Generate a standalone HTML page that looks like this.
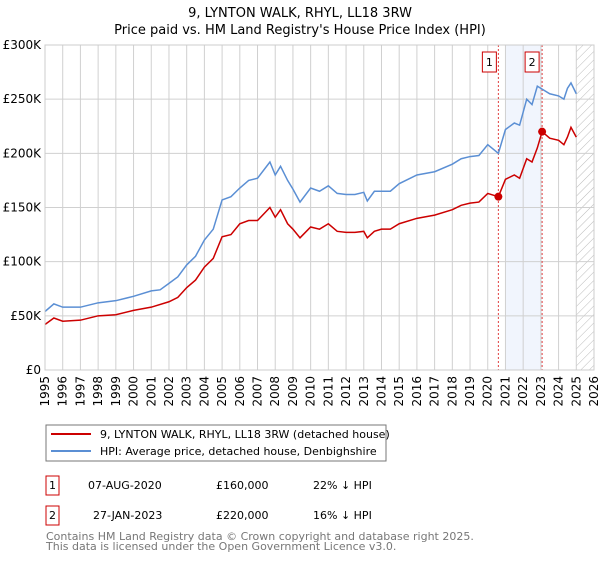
<!DOCTYPE html>
<html><head><meta charset="utf-8"><style>
body{margin:0;background:#fff;font-family:"Liberation Sans","DejaVu Sans",sans-serif;}
svg text{font-family:"DejaVu Sans","Liberation Sans",sans-serif;}
</style></head><body>
<svg id="c" width="600" height="560" xmlns="http://www.w3.org/2000/svg">
<defs><pattern id="h" width="6" height="6" patternUnits="userSpaceOnUse" patternTransform="rotate(45)"><line x1="0" y1="0" x2="0" y2="6" stroke="#bbb" stroke-width="1"/></pattern></defs>
<text x="300" y="17" text-anchor="middle" font-size="13">9, LYNTON WALK, RHYL, LL18 3RW</text>
<text x="300" y="34" text-anchor="middle" font-size="13">Price paid vs. HM Land Registry's House Price Index (HPI)</text>
<g id="grid"></g><g id="marks"></g>
<rect x="46" y="425" width="340" height="36" fill="#fff" stroke="#777"/>
<line x1="51" y1="434" x2="91" y2="434" stroke="#cc0000" stroke-width="2"/>
<text x="100" y="438" font-size="11">9, LYNTON WALK, RHYL, LL18 3RW (detached house)</text>
<line x1="51" y1="451" x2="91" y2="451" stroke="#5b8fd4" stroke-width="2"/>
<text x="100" y="455" font-size="11">HPI: Average price, detached house, Denbighshire</text>
<g font-size="11">
<rect x="46" y="476" width="13" height="19" fill="#fff" stroke="#cc0000"/><text x="52.5" y="489" text-anchor="middle">1</text>
<text x="88" y="489">07-AUG-2020</text><text x="216" y="489">£160,000</text><text x="313" y="489">22% ↓ HPI</text>
<rect x="46" y="506" width="13" height="19" fill="#fff" stroke="#cc0000"/><text x="52.5" y="519" text-anchor="middle">2</text>
<text x="93" y="519">27-JAN-2023</text><text x="216" y="519">£220,000</text><text x="313" y="519">16% ↓ HPI</text>
</g>
<text x="46" y="540" font-size="11" fill="#777">Contains HM Land Registry data © Crown copyright and database right 2025.</text>
<text x="46" y="550" font-size="11" fill="#777">This data is licensed under the Open Government Licence v3.0.</text>
</svg>
<script>
const hpiT=[1995,1995.5,1996,1997,1998,1999,2000,2001,2001.5,2002,2002.5,2003,2003.5,2004,2004.5,2005,2005.5,2006,2006.5,2007,2007.7,2008,2008.3,2008.7,2009,2009.4,2010,2010.5,2011,2011.5,2012,2012.5,2013,2013.2,2013.6,2014,2014.5,2015,2016,2017,2018,2018.5,2019,2019.5,2020,2020.6,2021,2021.5,2021.8,2022.2,2022.5,2022.8,2023,2023.5,2024,2024.3,2024.5,2024.7,2025];
const hpiV=[54,61,58,58,62,64,68,73,74,80,86,97,105,120,130,157,160,168,175,177,192,180,188,175,167,155,168,165,170,163,162,162,164,156,165,165,165,172,180,183,190,195,197,198,208,200,222,228,226,250,245,262,260,255,253,250,260,265,255];
const redT=[1995,1995.5,1996,1997,1998,1999,2000,2001,2002,2002.5,2003,2003.5,2004,2004.5,2005,2005.5,2006,2006.5,2007,2007.7,2008,2008.3,2008.7,2009,2009.4,2010,2010.5,2011,2011.5,2012,2012.5,2013,2013.2,2013.6,2014,2014.5,2015,2016,2017,2018,2018.5,2019,2019.5,2020,2020.6,2021,2021.5,2021.8,2022.2,2022.5,2022.8,2023.07,2023.5,2024,2024.3,2024.5,2024.7,2025];
const redV=[42,48,45,46,50,51,55,58,63,67,76,83,95,103,123,125,135,138,138,150,141,148,135,130,122,132,130,135,128,127,127,128,122,128,130,130,135,140,143,148,152,154,155,163,160,176,180,177,195,192,205,220,214,212,208,215,224,215];
const saleT=[2020.6,2023.07];
const saleV=[160,220];
const saleLbl=["1","2"];
const yTicks=[0,50,100,150,200,250,300];
const yLbl=["£0","£50K","£100K","£150K","£200K","£250K","£300K"];
const years=[];for(let y=1995;y<=2026;y++)years.push(y);
const X0=45,X1=594,Y0=370,Y1=45;
const x=t=>X0+(t-1995)/(2026-1995)*(X1-X0);
const y=v=>Y0-v/300*(Y0-Y1);
const NS="http://www.w3.org/2000/svg";
function mk(p,tag,a){const e=document.createElementNS(NS,tag);for(const k in a)e.setAttribute(k,a[k]);p.appendChild(e);return e;}
const g=document.getElementById('grid'),m=document.getElementById('marks');
let r=mk(g,'rect',{x:x(2021),y:Y1,width:x(2023.07)-x(2021),height:Y0-Y1,fill:'#f1f5fd'});


r=mk(g,'rect',{x:x(2025),y:Y1,width:X1-x(2025),height:Y0-Y1,fill:'url(#h)'});


years.forEach(t=>{mk(g,'line',{x1:x(t),x2:x(t),y1:Y1,y2:Y0,stroke:'#d0d0d0'});
const tx=mk(g,'text',{x:0,y:0,'font-size':12,'text-anchor':'end',transform:`translate(${x(t)+4},${Y0+6}) rotate(-90)`});tx.textContent=t;

});
yTicks.forEach((v,i)=>{mk(g,'line',{x1:X0,x2:X1,y1:y(v),y2:y(v),stroke:'#d0d0d0'});
const tx=mk(g,'text',{x:X0-4,y:y(v)+4,'font-size':12,'text-anchor':'end'});tx.textContent=yLbl[i];

});
saleT.forEach((t,i)=>{mk(m,'line',{x1:x(t),x2:x(t),y1:Y1,y2:Y0,stroke:'#e04040','stroke-dasharray':'2,2'});
const b=mk(m,'rect',{x:x(t)-16+(i?-1:0),y:52,width:14,height:20,fill:'#fff',stroke:'#cc0000'});


const tx=mk(m,'text',{x:x(t)-9+(i?-1:0),y:66,'font-size':11,'text-anchor':'middle'});tx.textContent=saleLbl[i];});
let p=mk(m,'polyline',{points:hpiT.map((t,i)=>x(t)+','+y(hpiV[i])).join(' '),fill:'none',stroke:'#5b8fd4','stroke-width':1.5});


p=mk(m,'polyline',{points:redT.map((t,i)=>x(t)+','+y(redV[i])).join(' '),fill:'none',stroke:'#cc0000','stroke-width':1.5});


saleT.forEach((t,i)=>{const c=mk(m,'circle',{cx:x(t),cy:y(saleV[i]),r:4,fill:'#cc0000'});

});
mk(m,'rect',{x:X0,y:Y1,width:X1-X0,height:Y0-Y1,fill:'none',stroke:'#ccc'});
</script>
</body></html>
